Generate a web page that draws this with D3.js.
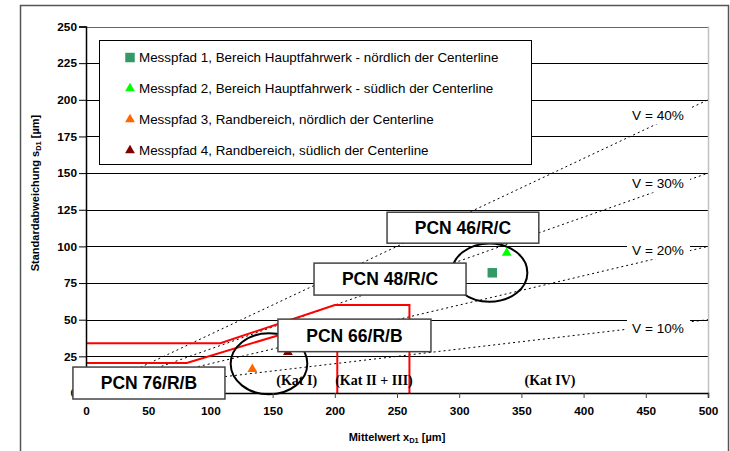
<!DOCTYPE html>
<html>
<head>
<meta charset="utf-8">
<script src="https://cdn.jsdelivr.net/npm/d3@7"></script>
<style>
  body { margin: 0; background: #fff; }
  svg { display: block; }
</style>
</head>
<body>
<svg id="chart" width="730" height="451"></svg>
<script>
// chart values
const xTicks = [0, 50, 100, 150, 200, 250, 300, 350, 400, 450, 500];
const yTicks = [0, 25, 50, 75, 100, 125, 150, 175, 200, 225, 250];

const seriesNames = [
  "Messpfad 1, Bereich Hauptfahrwerk - nördlich der Centerline",
  "Messpfad 2, Bereich Hauptfahrwerk - südlich der Centerline",
  "Messpfad 3, Randbereich, nördlich der Centerline",
  "Messpfad 4, Randbereich, südlich der Centerline"
];
const seriesX = [326.6, 338.2, 133.7, 162.3];
const seriesY = [82, 95.6, 16.3, 27.8];
const seriesColors = ["#339966", "#00ff00", "#ff6600", "#800000"];
const seriesSymbols = ["square", "triangle", "triangle", "triangle"];

// coefficient of variation lines s = V * x
const vValues = [0.1, 0.2, 0.3, 0.4];
const vLabels = ["V = 10%", "V = 20%", "V = 30%", "V = 40%"];

// PCN limit polylines
const redUpper = [[0, 34], [108, 34], [200, 60], [260, 60], [260, 0]];
const redLower = [[0, 20.5], [81, 20.5], [165, 42], [202, 42], [202, 0]];

const pcnLabels = ["PCN 46/R/C", "PCN 48/R/C", "PCN 66/R/B", "PCN 76/R/B"];
const katLabels = ["(Kat I)", "(Kat II + III)", "(Kat IV)"];

// layout
const margin = {left: 86, right: 22, top: 26.5, bottom: 58};
const width = 730, height = 451;
const sans = "Liberation Sans, Arial, sans-serif";

const svg = d3.select("#chart");

const x = d3.scaleLinear().domain([0, 500]).range([margin.left, width - margin.right]);
const y = d3.scaleLinear().domain([0, 250]).range([height - margin.bottom, margin.top]);

// outer frame
svg.append("rect")
  .attr("x", 20.5).attr("y", 5.5)
  .attr("width", 708).attr("height", 460)
  .attr("fill", "#fff")
  .attr("stroke", "#555").attr("stroke-width", 1.5);

// grid lines
svg.append("g")
  .selectAll("line")
  .data(yTicks.filter(d => d > 0))
  .join("line")
  .attr("x1", x(0)).attr("x2", x(500))
  .attr("y1", d => Math.round(y(d)) + 0.5).attr("y2", d => Math.round(y(d)) + 0.5)
  .attr("stroke", d => d === 250 ? "#666" : "#000")
  .attr("stroke-width", 1);

// right border of plot area
svg.append("line")
  .attr("x1", x(500) + 0.5).attr("x2", x(500) + 0.5)
  .attr("y1", y(250)).attr("y2", y(0))
  .attr("stroke", "#c0c0c0").attr("stroke-width", 1.5);

// V lines
svg.append("g")
  .selectAll("line")
  .data(vValues)
  .join("line")
  .attr("x1", x(0)).attr("y1", y(0))
  .attr("x2", x(500)).attr("y2", d => y(500 * d))
  .attr("stroke", "#000").attr("stroke-width", 1)
  .attr("stroke-dasharray", "2,3");

// V labels with white background
const vLabelX = 459.8;
const vLabelY = [44.3, 97.4, 143, 189.4];
const vg = svg.append("g").selectAll("g")
  .data(vLabels)
  .join("g")
  .attr("transform", (d, i) => `translate(${x(vLabelX)},${y(vLabelY[i])})`);
vg.append("rect")
  .attr("x", -31).attr("y", -9).attr("width", 63).attr("height", 18)
  .attr("fill", "#fff");
vg.append("text")
  .attr("text-anchor", "middle").attr("dy", "0.36em")
  .attr("font-family", sans)
  .attr("font-size", "13.6px")
  .text(d => d);

// red PCN limits
const line = d3.line().x(d => x(d[0])).y(d => y(d[1]));
[redUpper, redLower].forEach(pts => {
  svg.append("path")
    .attr("d", line(pts))
    .attr("fill", "none")
    .attr("stroke", "#ff0000").attr("stroke-width", 2);
});

// ellipses
const ellipses = [[147.1, 19.9, 30.8, 20.8], [324.4, 82.1, 30.4, 19.9]];
svg.append("g").selectAll("ellipse")
  .data(ellipses)
  .join("ellipse")
  .attr("cx", d => x(d[0])).attr("cy", d => y(d[1]))
  .attr("rx", d => x(d[2]) - x(0)).attr("ry", d => y(0) - y(d[3]))
  .attr("fill", "none")
  .attr("stroke", "#000").attr("stroke-width", 2);

// points
const sym = {square: d3.symbol().type(d3.symbolSquare).size(90),
             triangle: d3.symbol().type(d3.symbolTriangle).size(42)};
svg.append("g").selectAll("path")
  .data(seriesNames)
  .join("path")
  .attr("transform", (d, i) => `translate(${x(seriesX[i])},${y(seriesY[i])})`)
  .attr("d", (d, i) => sym[seriesSymbols[i]]())
  .attr("fill", (d, i) => seriesColors[i]);

// axes
const xAxis = svg.append("g")
  .attr("transform", `translate(0,${y(0)})`)
  .call(d3.axisBottom(x).tickValues(xTicks).tickSize(5).tickPadding(9));
const yAxis = svg.append("g")
  .attr("transform", `translate(${x(0)},0)`)
  .call(d3.axisLeft(y).tickValues(yTicks).tickSize(7).tickPadding(2));
[xAxis, yAxis].forEach(a => {
  a.select(".domain").attr("stroke", "#000").attr("stroke-width", 1.5);
  a.selectAll(".tick line").attr("stroke", "#000");
  a.selectAll(".tick text")
    .attr("font-family", sans)
    .attr("font-weight", "bold")
    .attr("font-size", "11.8px")
    .attr("fill", "#000");
});
xAxis.selectAll(".tick line").attr("stroke", "#444");

// PCN boxes
const pcnBoxes = [[242, 364, 102.2, 123.3], [183.3, 305.5, 66.8, 88.6],
                  [154.3, 277.3, 28.2, 50.4], [-10.5, 111.7, -4.1, 17.7]];
const pg = svg.append("g").selectAll("g")
  .data(pcnLabels)
  .join("g");
pg.append("rect")
  .attr("x", (d, i) => x(pcnBoxes[i][0]))
  .attr("y", (d, i) => y(pcnBoxes[i][3]))
  .attr("width", (d, i) => x(pcnBoxes[i][1]) - x(pcnBoxes[i][0]))
  .attr("height", (d, i) => y(pcnBoxes[i][2]) - y(pcnBoxes[i][3]))
  .attr("fill", "#fff")
  .attr("stroke", "#444").attr("stroke-width", 1.5);
pg.append("text")
  .attr("x", (d, i) => (x(pcnBoxes[i][0]) + x(pcnBoxes[i][1])) / 2)
  .attr("y", (d, i) => (y(pcnBoxes[i][2]) + y(pcnBoxes[i][3])) / 2)
  .attr("dy", "0.36em")
  .attr("text-anchor", "middle")
  .attr("font-family", sans)
  .attr("font-weight", "bold")
  .attr("font-size", "17.5px")
  .text(d => d);

// Kat labels
const katX = [169.4, 231.5, 373];
svg.append("g").selectAll("text")
  .data(katLabels)
  .join("text")
  .attr("x", (d, i) => x(katX[i]))
  .attr("y", y(8.9))
  .attr("dy", "0.36em")
  .attr("text-anchor", "middle")
  .attr("font-family", "Liberation Serif, Times New Roman, serif")
  .attr("font-weight", "bold")
  .attr("font-size", "14px")
  .text(d => d);

// legend
const legend = svg.append("g");
legend.append("rect")
  .attr("x", 99.5).attr("y", 40.5).attr("width", 432).attr("height", 124)
  .attr("fill", "#fff").attr("stroke", "#000").attr("stroke-width", 1);
const li = legend.selectAll("g.item")
  .data(seriesNames)
  .join("g")
  .attr("class", "item")
  .attr("transform", (d, i) => `translate(130,${57.5 + i * 31})`);
li.append("path")
  .attr("d", (d, i) => sym[seriesSymbols[i]]())
  .attr("fill", (d, i) => seriesColors[i]);
li.append("text")
  .attr("x", 9).attr("dy", "0.36em")
  .attr("font-family", sans)
  .attr("font-size", "13.4px")
  .text(d => d);

// axis titles
const xt = svg.append("text")
  .attr("x", 397).attr("y", 441)
  .attr("text-anchor", "middle")
  .attr("font-family", sans)
  .attr("font-weight", "bold")
  .attr("font-size", "11px");
xt.append("tspan").text("Mittelwert x");
xt.append("tspan").attr("font-size", "7.5px").attr("dy", 2).text("D1");
xt.append("tspan").attr("dy", -2).text(" [µm]");

const yt = svg.append("text")
  .attr("transform", "translate(39,193) rotate(-90)")
  .attr("text-anchor", "middle")
  .attr("font-family", sans)
  .attr("font-weight", "bold")
  .attr("font-size", "11px");
yt.append("tspan").text("Standardabweichung s");
yt.append("tspan").attr("font-size", "7.5px").attr("dy", 2).text("D1");
yt.append("tspan").attr("dy", -2).text(" [µm]");
</script>
</body>
</html>
